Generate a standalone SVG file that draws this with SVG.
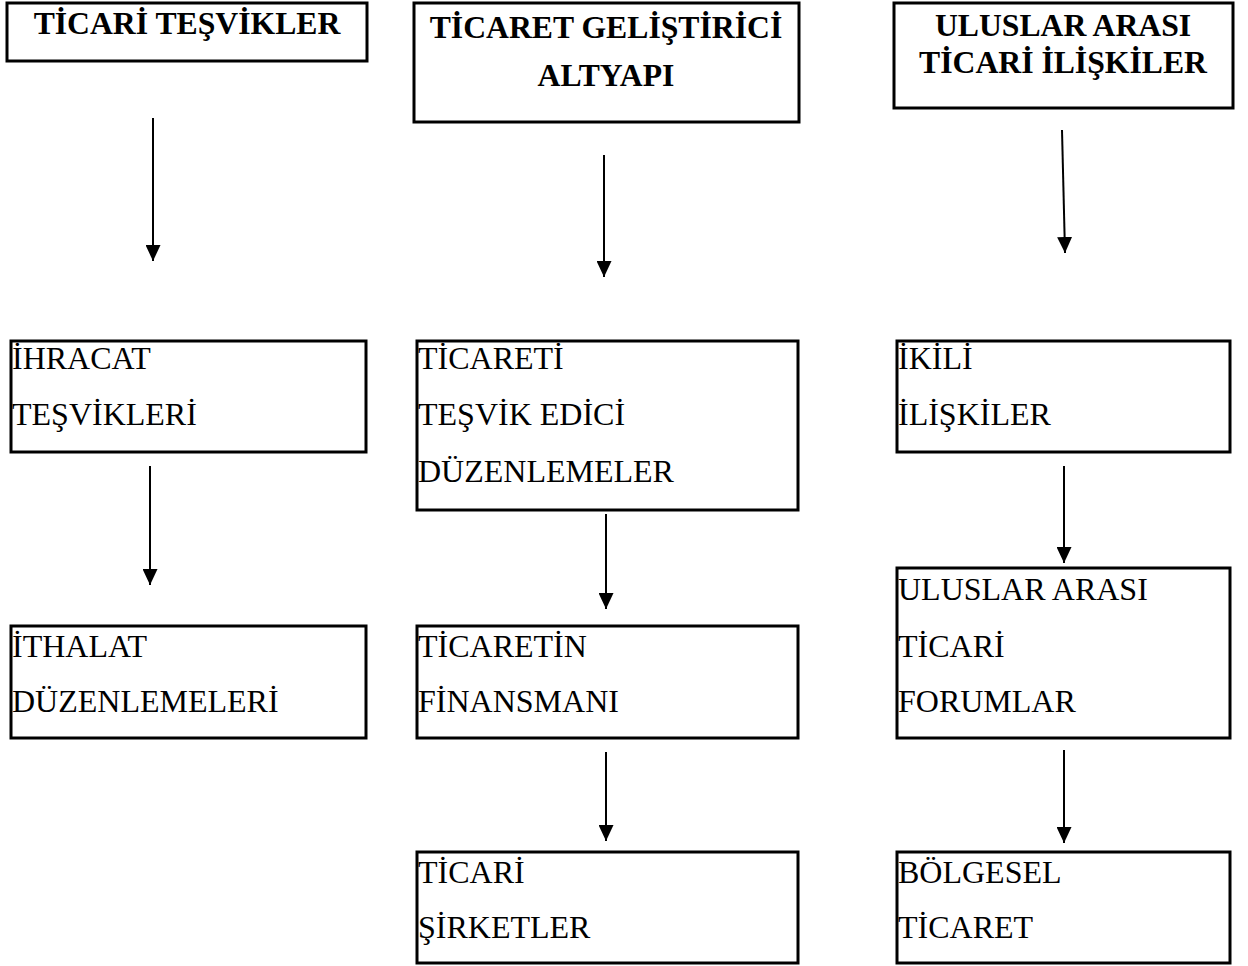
<svg xmlns="http://www.w3.org/2000/svg" width="1248" height="966" viewBox="0 0 1248 966">
<style>
.box{fill:#fff;stroke:#000;stroke-width:3}
.t{font-family:"Liberation Serif","Times New Roman",serif;font-size:32px;fill:#000}
.h{font-family:"Liberation Serif","Times New Roman",serif;font-size:31.7px;font-weight:bold;fill:#000;text-anchor:middle}
.c{stroke:#000;stroke-width:2;fill:none;marker-end:url(#ah)}
</style>
<defs>
<marker id="ah" markerUnits="userSpaceOnUse" markerWidth="16" markerHeight="15" refX="16" refY="7.5" orient="auto" viewBox="0 0 16 15">
<path d="M0,0 L16,7.5 L0,15 Z" fill="#000"/>
</marker>
</defs>
<rect width="1248" height="966" fill="#fff"/>
<g id="connectors">
<line class="c" x1="153" y1="118" x2="153" y2="261"/>
<line class="c" x1="604" y1="155" x2="604" y2="277"/>
<line class="c" x1="1062" y1="130" x2="1065" y2="253"/>
<line class="c" x1="150" y1="466" x2="150" y2="585"/>
<line class="c" x1="606" y1="514" x2="606" y2="609"/>
<line class="c" x1="606" y1="752" x2="606" y2="841"/>
<line class="c" x1="1064" y1="466" x2="1064" y2="563"/>
<line class="c" x1="1064" y1="750" x2="1064" y2="843"/>
</g>
<g id="n1"><rect class="box" x="7" y="3" width="360" height="58"/><text class="h" x="187" y="34">TİCARİ TEŞVİKLER</text></g>
<g id="n2"><rect class="box" x="414" y="3" width="385" height="119"/><text class="h" x="606" y="38">TİCARET GELİŞTİRİCİ</text><text class="h" x="606" y="86">ALTYAPI</text></g>
<g id="n3"><rect class="box" x="894" y="3" width="339" height="105"/><text class="h" x="1063" y="36">ULUSLAR ARASI</text><text class="h" x="1063" y="73">TİCARİ İLİŞKİLER</text></g>
<g id="n4"><rect class="box" x="11" y="341" width="355" height="111"/><text class="t" x="12" y="369">İHRACAT</text><text class="t" x="12" y="425">TEŞVİKLERİ</text></g>
<g id="n5"><rect class="box" x="417" y="341" width="381" height="169"/><text class="t" x="418" y="369">TİCARETİ</text><text class="t" x="418" y="425">TEŞVİK EDİCİ</text><text class="t" x="418" y="482">DÜZENLEMELER</text></g>
<g id="n6"><rect class="box" x="897" y="341" width="333" height="111"/><text class="t" x="898" y="369">İKİLİ</text><text class="t" x="898" y="425">İLİŞKİLER</text></g>
<g id="n7"><rect class="box" x="11" y="626" width="355" height="112"/><text class="t" x="12" y="657">İTHALAT</text><text class="t" x="12" y="712">DÜZENLEMELERİ</text></g>
<g id="n8"><rect class="box" x="417" y="626" width="381" height="112"/><text class="t" x="418" y="657">TİCARETİN</text><text class="t" x="418" y="712">FİNANSMANI</text></g>
<g id="n9"><rect class="box" x="897" y="568" width="333" height="170"/><text class="t" x="898" y="600">ULUSLAR ARASI</text><text class="t" x="898" y="657">TİCARİ</text><text class="t" x="898" y="712">FORUMLAR</text></g>
<g id="n10"><rect class="box" x="417" y="852" width="381" height="111"/><text class="t" x="418" y="883">TİCARİ</text><text class="t" x="418" y="938">ŞİRKETLER</text></g>
<g id="n11"><rect class="box" x="897" y="852" width="333" height="111"/><text class="t" x="898" y="883">BÖLGESEL</text><text class="t" x="898" y="938">TİCARET</text></g>
</svg>
